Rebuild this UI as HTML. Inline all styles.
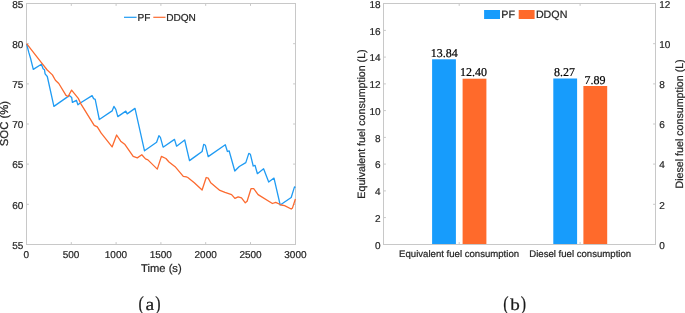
<!DOCTYPE html>
<html><head><meta charset="utf-8"><title>Figure</title>
<style>html,body{margin:0;padding:0;background:#fff;}text{text-rendering:geometricPrecision;stroke:#262626;stroke-width:0.22px;paint-order:stroke}svg{display:block;will-change:transform;opacity:0.999}</style></head>
<body><svg width="685" height="313" viewBox="0 0 685 313">
<rect x="0" y="0" width="685" height="313" fill="#fff"/>
<g stroke="#c8c8c8" stroke-width="1" fill="none" shape-rendering="crispEdges">
<rect x="26.5" y="3.5" width="269.0" height="241.0"/></g>
<g stroke="#c8c8c8" stroke-width="1" fill="none">
<line x1="71.3" y1="244.5" x2="71.3" y2="242.1"/><line x1="71.3" y1="3.5" x2="71.3" y2="5.9"/>
<line x1="116.1" y1="244.5" x2="116.1" y2="242.1"/><line x1="116.1" y1="3.5" x2="116.1" y2="5.9"/>
<line x1="160.9" y1="244.5" x2="160.9" y2="242.1"/><line x1="160.9" y1="3.5" x2="160.9" y2="5.9"/>
<line x1="205.7" y1="244.5" x2="205.7" y2="242.1"/><line x1="205.7" y1="3.5" x2="205.7" y2="5.9"/>
<line x1="250.5" y1="244.5" x2="250.5" y2="242.1"/><line x1="250.5" y1="3.5" x2="250.5" y2="5.9"/>
<line x1="26.5" y1="43.7" x2="28.9" y2="43.7"/><line x1="295.5" y1="43.7" x2="293.1" y2="43.7"/>
<line x1="26.5" y1="83.9" x2="28.9" y2="83.9"/><line x1="295.5" y1="83.9" x2="293.1" y2="83.9"/>
<line x1="26.5" y1="124.0" x2="28.9" y2="124.0"/><line x1="295.5" y1="124.0" x2="293.1" y2="124.0"/>
<line x1="26.5" y1="164.1" x2="28.9" y2="164.1"/><line x1="295.5" y1="164.1" x2="293.1" y2="164.1"/>
<line x1="26.5" y1="204.3" x2="28.9" y2="204.3"/><line x1="295.5" y1="204.3" x2="293.1" y2="204.3"/>
</g>
<g font-family="'Liberation Sans', Arial, sans-serif" font-size="10" fill="#262626">
<text x="26.2" y="258" text-anchor="middle">0</text>
<text x="71.1" y="258" text-anchor="middle">500</text>
<text x="115.9" y="258" text-anchor="middle">1000</text>
<text x="160.8" y="258" text-anchor="middle">1500</text>
<text x="205.7" y="258" text-anchor="middle">2000</text>
<text x="250.5" y="258" text-anchor="middle">2500</text>
<text x="295.4" y="258" text-anchor="middle">3000</text>
<text x="23.4" y="7.8" text-anchor="end">85</text>
<text x="23.4" y="48.0" text-anchor="end">80</text>
<text x="23.4" y="88.1" text-anchor="end">75</text>
<text x="23.4" y="128.2" text-anchor="end">70</text>
<text x="23.4" y="168.4" text-anchor="end">65</text>
<text x="23.4" y="208.5" text-anchor="end">60</text>
<text x="23.4" y="248.6" text-anchor="end">55</text>
</g>
<g font-family="'Liberation Sans', Arial, sans-serif" font-size="11" fill="#262626">
<text x="161.4" y="271.7" text-anchor="middle" font-size="11.2">Time (s)</text>
<text transform="translate(8.2,123.6) rotate(-90)" text-anchor="middle" font-size="11.3">SOC (%)</text>
</g>
<polyline points="26.6,44.0 28.8,52.4 30.6,58.5 33.3,69.4 41.4,64.2 43.1,68.7 44.5,69.8 45.1,73.9 47.3,76.5 53.9,106.4 69.3,95.6 71.7,97.6 72.4,102.4 76.4,100.3 77.9,104.8 79.9,103.2 92.1,95.6 93.6,98.6 95.2,99.4 99.3,119.5 112.1,110.9 113.9,106.4 115.8,109.4 117.8,116.6 125.8,111.1 127.2,113.9 135.0,108.4 144.5,150.8 156.6,142.2 158.9,135.7 160.4,137.4 163.1,147.2 174.5,139.4 176.6,146.2 184.7,140.0 189.5,160.6 196.4,155.6 202.1,151.5 203.7,144.3 205.4,145.3 208.2,156.6 225.3,144.8 227.4,151.5 229.1,150.8 234.8,171.0 239.3,166.5 245.8,162.6 248.8,153.4 250.4,154.3 253.2,166.0 255.0,165.3 257.4,173.7 263.6,168.8 268.7,182.1 274.0,178.1 280.2,205.0 291.2,197.5 294.5,186.9 295.5,187.5" fill="none" stroke="#1f9bf3" stroke-width="1.3" stroke-linejoin="round"/>
<polyline points="26.6,43.6 41.4,62.6 47.2,70.0 52.4,74.9 55.4,80.2 58.8,83.5 66.0,95.4 68.1,96.5 71.6,90.1 78.3,98.4 80.9,103.8 94.2,125.3 97.3,126.9 101.2,133.2 112.1,146.9 116.6,135.0 120.7,141.2 125.0,144.6 133.2,156.4 137.3,157.9 141.8,154.8 145.5,158.9 147.9,159.9 157.3,169.1 161.4,156.4 165.9,158.5 169.0,162.0 175.1,166.7 183.3,176.3 186.4,176.9 187.8,177.5 194.3,182.8 202.1,190.0 206.2,177.5 208.2,178.1 210.7,182.8 219.9,190.4 225.0,192.4 231.6,194.6 234.9,198.4 238.2,196.8 241.5,197.9 245.3,202.8 247.1,201.3 251.0,188.7 253.7,188.7 258.1,194.6 272.4,203.5 275.7,202.4 281.3,205.0 284.6,205.7 291.2,209.0 292.5,207.9 295.4,199.0" fill="none" stroke="#fc6a2f" stroke-width="1.3" stroke-linejoin="round"/>
<line x1="124" y1="17.3" x2="136.6" y2="17.3" stroke="#1f9bf3" stroke-width="1.2"/>
<line x1="153.3" y1="17.3" x2="165.5" y2="17.3" stroke="#fc6a2f" stroke-width="1.2"/>
<g font-family="'Liberation Sans', Arial, sans-serif" font-size="10.1" fill="#262626"><text x="137.6" y="21.3">PF</text><text x="166.2" y="21.3">DDQN</text></g>
<g font-family="'Liberation Serif', 'Times New Roman', serif" font-size="20" fill="#1a1a1a"><text transform="translate(138.5,309.8) scale(0.8,1)">(</text><text transform="translate(145.5,309.6) scale(1.12,1)" font-size="17.5">a</text><text transform="translate(155.3,309.8) scale(0.8,1)">)</text><text transform="translate(503.2,309.8) scale(0.8,1)">(</text><text transform="translate(510.2,309.5) scale(1.15,1)" font-size="16.6">b</text><text transform="translate(520.7,309.8) scale(0.8,1)">)</text></g>
<g stroke="#c8c8c8" stroke-width="1" fill="none" shape-rendering="crispEdges">
<rect x="383.5" y="3.5" width="272.0" height="241.0"/></g>
<g stroke="#c8c8c8" stroke-width="1" fill="none">
<line x1="383.5" y1="217.6" x2="385.9" y2="217.6"/>
<line x1="383.5" y1="190.9" x2="385.9" y2="190.9"/>
<line x1="383.5" y1="164.1" x2="385.9" y2="164.1"/>
<line x1="383.5" y1="137.4" x2="385.9" y2="137.4"/>
<line x1="383.5" y1="110.6" x2="385.9" y2="110.6"/>
<line x1="383.5" y1="83.9" x2="385.9" y2="83.9"/>
<line x1="383.5" y1="57.1" x2="385.9" y2="57.1"/>
<line x1="383.5" y1="30.4" x2="385.9" y2="30.4"/>
<line x1="655.5" y1="204.3" x2="653.1" y2="204.3"/>
<line x1="655.5" y1="164.1" x2="653.1" y2="164.1"/>
<line x1="655.5" y1="124.0" x2="653.1" y2="124.0"/>
<line x1="655.5" y1="83.9" x2="653.1" y2="83.9"/>
<line x1="655.5" y1="43.7" x2="653.1" y2="43.7"/>
<line x1="459.2" y1="244.5" x2="459.2" y2="242.1"/><line x1="459.2" y1="3.5" x2="459.2" y2="5.9"/>
<line x1="580.1" y1="244.5" x2="580.1" y2="242.1"/><line x1="580.1" y1="3.5" x2="580.1" y2="5.9"/>
</g>
<rect x="432.1" y="59.3" width="23.8" height="184.7" fill="#179cfc"/>
<rect x="462.6" y="78.7" width="23.8" height="165.3" fill="#ff6a2b"/>
<rect x="553.3" y="78.5" width="23.8" height="165.5" fill="#179cfc"/>
<rect x="583.4" y="86.0" width="23.8" height="158.0" fill="#ff6a2b"/>
<g font-family="'Liberation Serif', 'Times New Roman', serif" font-size="12" fill="#000" text-anchor="middle">
<text x="444.3" y="56.7">13.84</text><text x="473.6" y="75.9">12.40</text><text x="564.5" y="76">8.27</text><text x="595" y="83.6">7.89</text></g>
<rect x="484.1" y="10" width="15.9" height="9" fill="#179cfc"/><rect x="518.7" y="10" width="15.9" height="9" fill="#ff6a2b"/>
<g font-family="'Liberation Sans', Arial, sans-serif" font-size="10.7" fill="#262626"><text x="501.3" y="18.3">PF</text><text x="535.9" y="18.3">DDQN</text></g>
<g font-family="'Liberation Sans', Arial, sans-serif" font-size="10" fill="#262626">
<text x="380.6" y="248.7" text-anchor="end">0</text>
<text x="380.6" y="221.9" text-anchor="end">2</text>
<text x="380.6" y="195.2" text-anchor="end">4</text>
<text x="380.6" y="168.4" text-anchor="end">6</text>
<text x="380.6" y="141.7" text-anchor="end">8</text>
<text x="380.6" y="114.9" text-anchor="end">10</text>
<text x="380.6" y="88.2" text-anchor="end">12</text>
<text x="380.6" y="61.4" text-anchor="end">14</text>
<text x="380.6" y="34.7" text-anchor="end">16</text>
<text x="380.6" y="7.9" text-anchor="end">18</text>
<text x="659.2" y="248.7">0</text>
<text x="659.2" y="208.6">2</text>
<text x="659.2" y="168.4">4</text>
<text x="659.2" y="128.3">6</text>
<text x="659.2" y="88.2">8</text>
<text x="659.2" y="48.0">10</text>
<text x="659.2" y="7.9">12</text>
</g>
<g font-family="'Liberation Sans', Arial, sans-serif" font-size="10.67" fill="#262626" text-anchor="middle">
<text x="459.1" y="257.4" font-size="9.6">Equivalent fuel consumption</text><text x="580.2" y="257.4" font-size="9.6">Diesel fuel consumption</text>
<text transform="translate(365.2,124) rotate(-90)">Equivalent fuel consumption (L)</text>
<text transform="translate(682.6,123.9) rotate(-90)">Diesel fuel consumption (L)</text>
</g>
</svg></body></html>
